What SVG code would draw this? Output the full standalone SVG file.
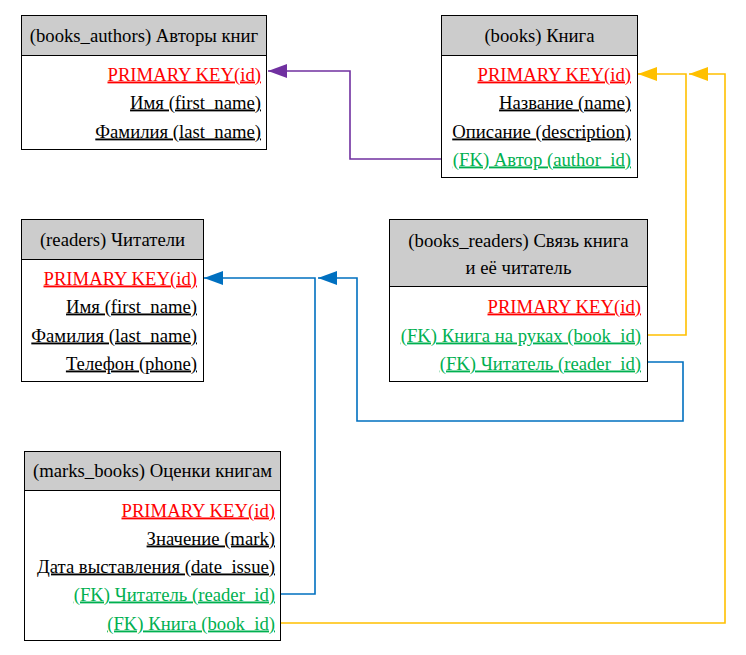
<svg xmlns="http://www.w3.org/2000/svg" width="746" height="655" viewBox="0 0 746 655" font-family="Liberation Serif, Times New Roman, serif" font-size="18.7">
<style>
.h{text-anchor:middle;fill:#000;}
.r{text-anchor:end;text-decoration:underline;text-decoration-skip-ink:none;}
.pk{fill:#FF0000;}
.fk{fill:#00B050;}
.f{fill:#000;}
.box{fill:#fff;stroke:#000;stroke-width:1;}
.hd{fill:#CCCCCC;stroke:#000;stroke-width:1;}
.c{fill:none;stroke-width:1.6;}
</style>
<defs>
<marker id="ap" markerWidth="20" markerHeight="14" refX="19" refY="7" orient="auto" markerUnits="userSpaceOnUse"><path d="M0,0 L19,7 L0,14 Z" fill="#7030A0"/></marker>
<marker id="ay" markerWidth="20" markerHeight="14" refX="19" refY="7" orient="auto" markerUnits="userSpaceOnUse"><path d="M0,0 L19,7 L0,14 Z" fill="#FFC000"/></marker>
<marker id="ab" markerWidth="20" markerHeight="14" refX="19" refY="7" orient="auto" markerUnits="userSpaceOnUse"><path d="M0,0 L19,7 L0,14 Z" fill="#0070C0"/></marker>
</defs>
<rect width="746" height="655" fill="#fff"/>
<g id="connectors">
<path class="c" stroke="#7030A0" d="M441,159 H350 V71 H268" marker-end="url(#ap)"/>
<path class="c" stroke="#FFC000" d="M647,335 H686 V74 H638" marker-end="url(#ay)"/>
<path class="c" stroke="#FFC000" d="M280,623 H725 V74 H689" marker-end="url(#ay)"/>
<path class="c" stroke="#0070C0" d="M647,362 H683 V421 H357 V278 H318" marker-end="url(#ab)"/>
<path class="c" stroke="#0070C0" d="M280,594 H315 V278 H204" marker-end="url(#ab)"/>
</g>
<g id="books_authors" font-family="Liberation Serif, serif">
<rect class="box" x="21.5" y="15.5" width="245" height="134"/>
<rect class="hd" x="21.5" y="15.5" width="245" height="40"/>
<text class="h" x="144" y="41.5">(books_authors) Авторы книг</text>
<text class="r pk" x="261" y="80.5">PRIMARY KEY(id)</text>
<text class="r f" x="261" y="108.5">Имя (first_name)</text>
<text class="r f" x="261" y="137.5">Фамилия (last_name)</text>
</g>
<g id="books" font-family="Liberation Serif, serif">
<rect class="box" x="441.5" y="15.5" width="196" height="162"/>
<rect class="hd" x="441.5" y="15.5" width="196" height="40"/>
<text class="h" x="539.5" y="41.5">(books) Книга</text>
<text class="r pk" x="631" y="80.5">PRIMARY KEY(id)</text>
<text class="r f" x="631" y="108.5">Название (name)</text>
<text class="r f" x="631" y="137.5">Описание (description)</text>
<text class="r fk" x="631" y="165.5">(FK) Автор (author_id)</text>
</g>
<g id="readers" font-family="Liberation Serif, serif">
<rect class="box" x="21.5" y="219.5" width="182" height="162"/>
<rect class="hd" x="21.5" y="219.5" width="182" height="40"/>
<text class="h" x="112.5" y="245.5">(readers) Читатели</text>
<text class="r pk" x="197" y="284.5">PRIMARY KEY(id)</text>
<text class="r f" x="197" y="312.5">Имя (first_name)</text>
<text class="r f" x="197" y="341.5">Фамилия (last_name)</text>
<text class="r f" x="197" y="369.5">Телефон (phone)</text>
</g>
<g id="books_readers" font-family="Liberation Serif, serif">
<rect class="box" x="389.5" y="219.5" width="258" height="162"/>
<rect class="hd" x="389.5" y="219.5" width="258" height="67"/>
<text class="h" x="518.5" y="246.5">(books_readers) Связь книга</text>
<text class="h" x="518.5" y="273.5">и её читатель</text>
<text class="r pk" x="641" y="312.5">PRIMARY KEY(id)</text>
<text class="r fk" x="641" y="341.5">(FK) Книга на руках (book_id)</text>
<text class="r fk" x="641" y="369.5">(FK) Читатель (reader_id)</text>
</g>
<g id="marks_books" font-family="Liberation Serif, serif">
<rect class="box" x="24.5" y="451.5" width="256" height="189"/>
<rect class="hd" x="24.5" y="451.5" width="256" height="39"/>
<text class="h" x="152.5" y="476.5">(marks_books) Оценки книгам</text>
<text class="r pk" x="275" y="516.5">PRIMARY KEY(id)</text>
<text class="r f" x="275" y="544.5">Значение (mark)</text>
<text class="r f" x="275" y="572.5">Дата выставления (date_issue)</text>
<text class="r fk" x="275" y="600.5">(FK) Читатель (reader_id)</text>
<text class="r fk" x="275" y="629.5">(FK) Книга (book_id)</text>
</g>
</svg>
